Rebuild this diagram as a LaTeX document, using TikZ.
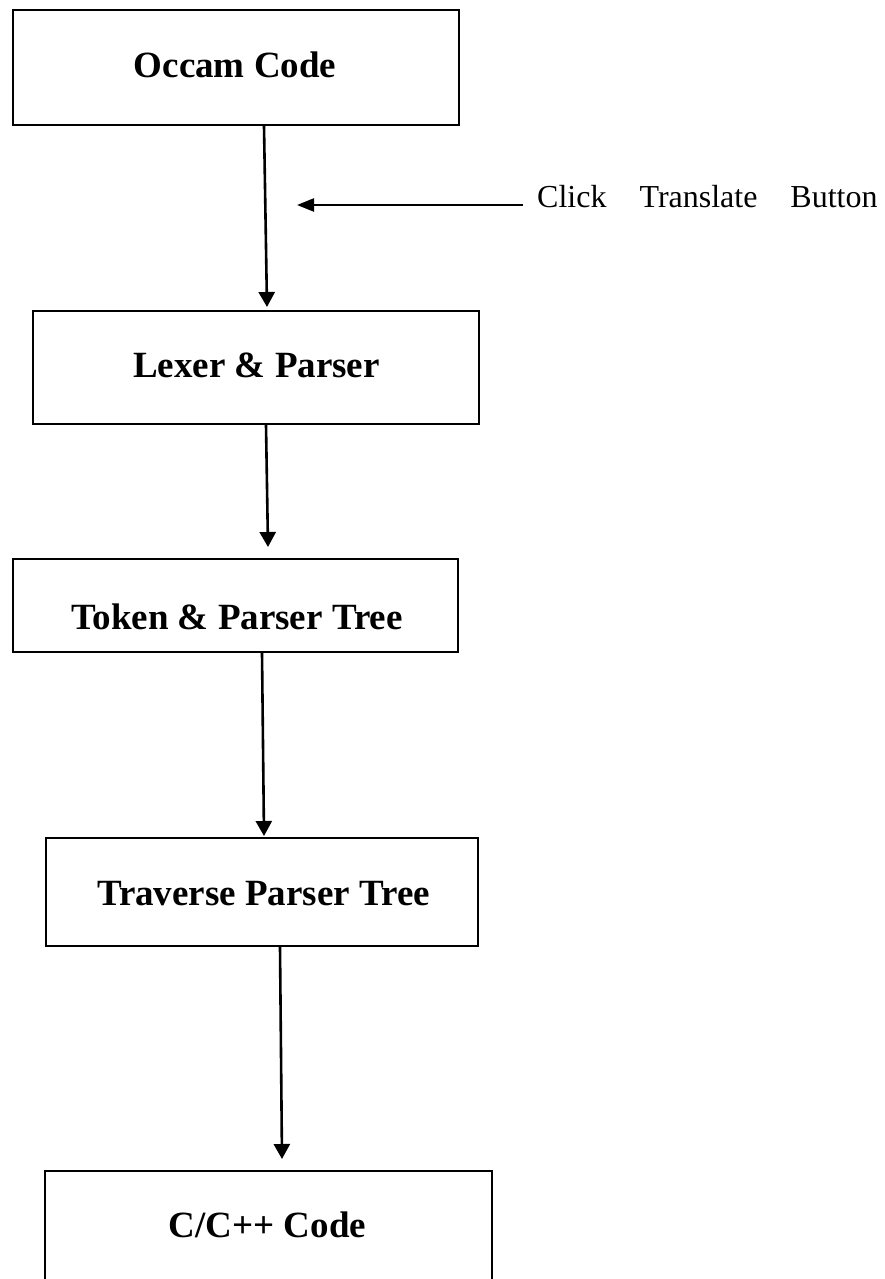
\documentclass[tikz,border=0pt]{standalone}
\usepackage{fontspec}
\setmainfont{Liberation Serif}
\usetikzlibrary{arrows.meta}
\begin{document}
\begin{tikzpicture}[x=1pt,y=-1pt,
  box/.style={draw=black,line width=2pt,fill=white,inner sep=0pt},
  boxtext/.style={anchor=base,inner sep=0pt,font=\fontsize{37}{42}\selectfont\bfseries},
  arr/.style={line width=2.6pt,-{Triangle[width=16pt,length=15pt]}}]
\useasboundingbox (0,0) rectangle (884,1279);
% boxes
\node[box,minimum width=446pt,minimum height=115pt] (o) at (236,67.5) {};
\node[box,minimum width=446pt,minimum height=113pt] (l) at (256,367.5) {};
\node[box,minimum width=445pt,minimum height=93pt] (t) at (235.5,605.5) {};
\node[box,minimum width=432pt,minimum height=108pt] (v) at (262,892) {};
\node[box,minimum width=447pt,minimum height=124pt] (c) at (268.5,1233) {};
% texts
\node[boxtext] (ot) at (235,78) {Occam Code};
\node[boxtext] (lt) at (256.5,377) {Lexer \& Parser};
\node[boxtext] (tt) at (237,629) {Token \& Parser Tree};
\node[boxtext] (vt) at (263.5,905) {Traverse Parser Tree};
\node[boxtext] (ct) at (267.5,1237) {C/C++ Code};
\node[anchor=base west,inner sep=0pt,font=\fontsize{32}{36}\selectfont] (click) at (537,207)
  {Click\hspace{33pt}Translate\hspace{33pt}Button};
% connectors
\draw[arr] ([xshift=28pt]o.south) -- ([xshift=11pt,yshift=3pt]l.north);
\draw[arr] ([xshift=10pt]l.south) -- ([xshift=32.5pt,yshift=11pt]t.north);
\draw[arr] ([xshift=26.5pt]t.south) -- ([xshift=2pt,yshift=1pt]v.north);
\draw[arr] ([xshift=18pt]v.south) -- ([xshift=13.5pt,yshift=11pt]c.north);
\coordinate (tip) at (297,205);
\draw[arr,line width=2.4pt,-{Triangle[width=13pt,length=17pt]}] ([xshift=-14pt]click.west |- tip) -- (tip);
\end{tikzpicture}
\end{document}
